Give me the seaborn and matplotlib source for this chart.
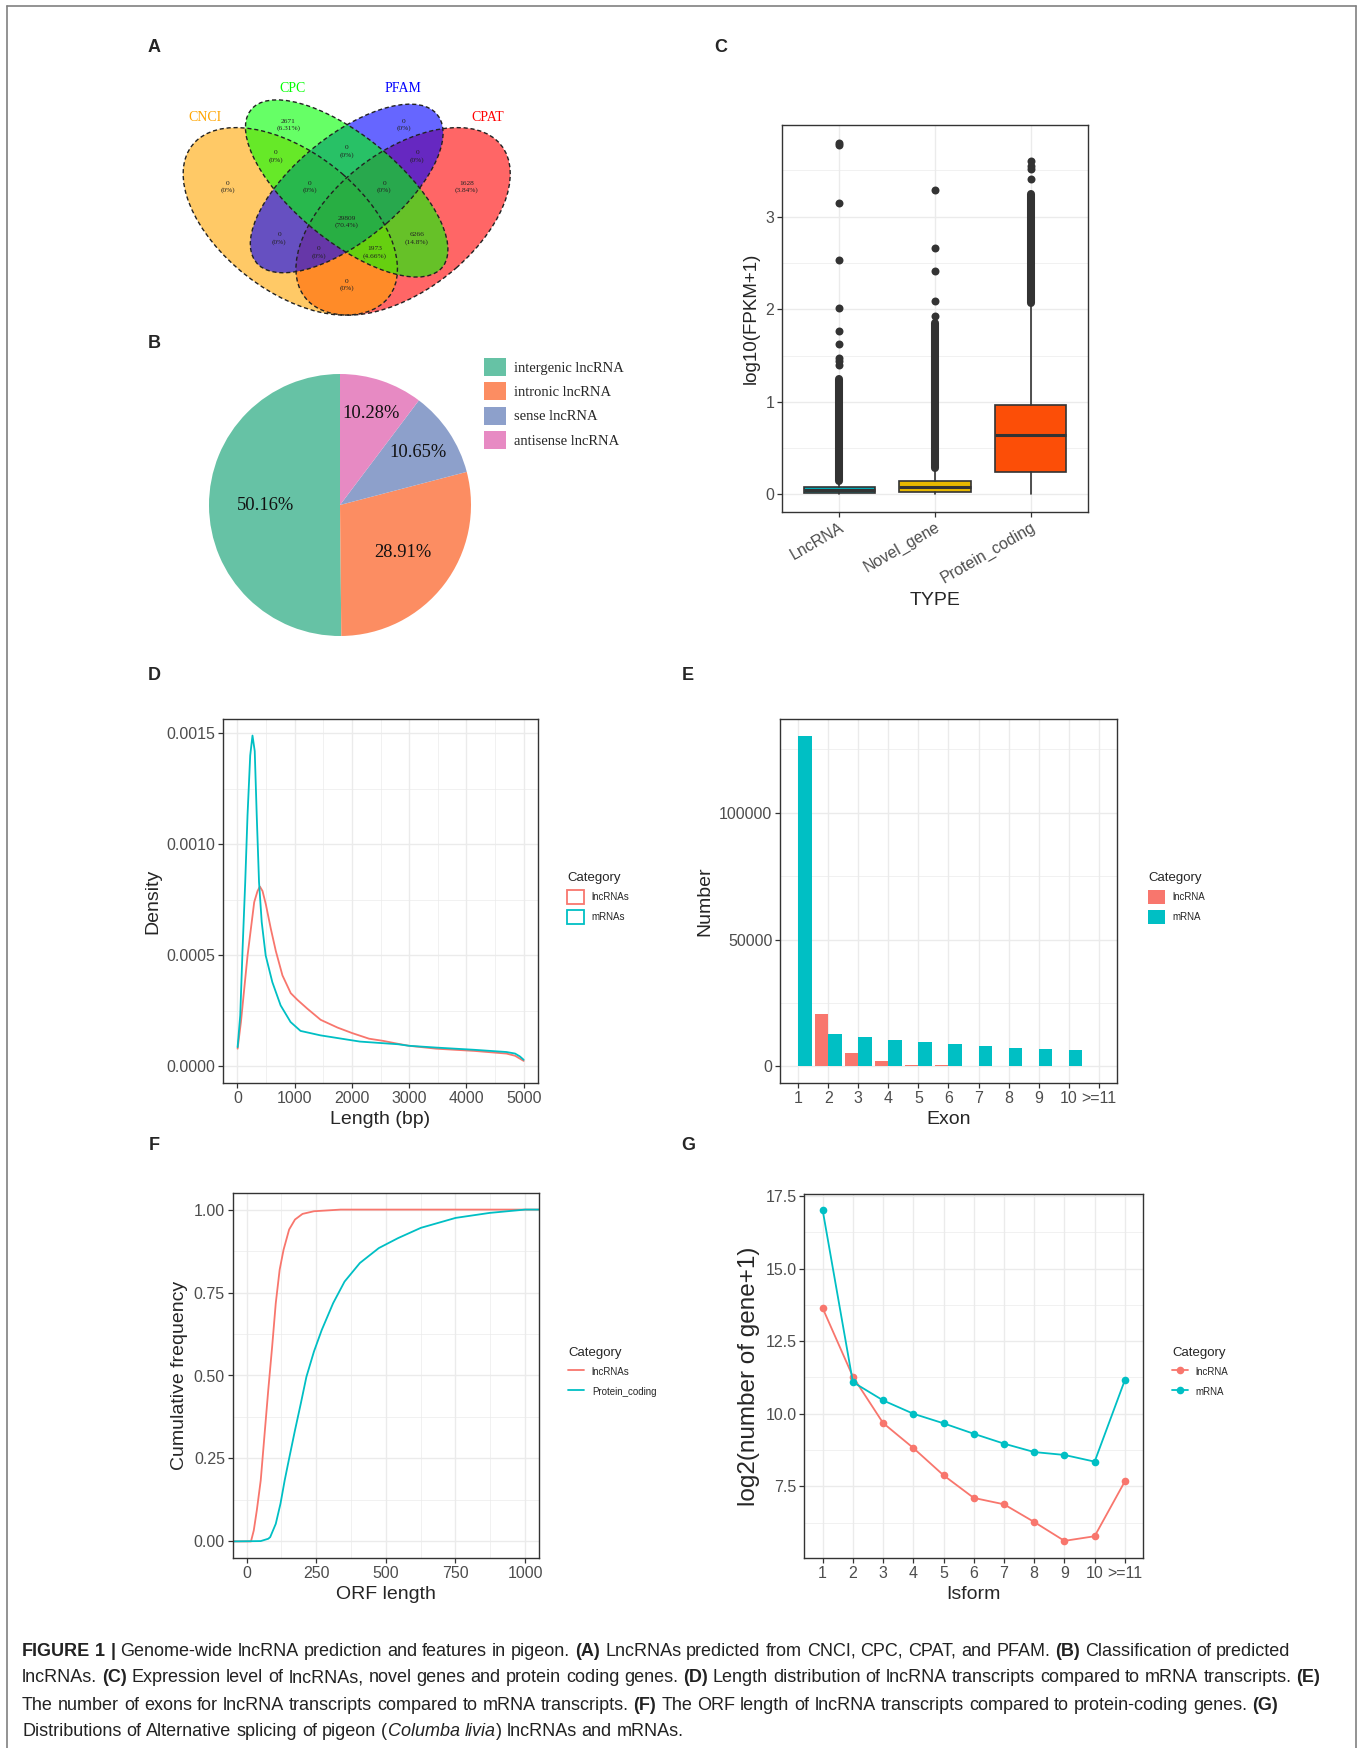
import re
import numpy as np
import pandas as pd
import matplotlib
matplotlib.use("Agg")
import matplotlib.pyplot as plt
import seaborn as sns
from matplotlib.patches import Ellipse, Patch
from matplotlib.lines import Line2D
from matplotlib.ticker import MultipleLocator

W, H = 1363, 1748

# ---------------- data ----------------
# A: Venn of the four predictors
venn_names = ["CNCI", "CPC", "PFAM", "CPAT"]
venn_colors = ["orange", "#00FF00", "#0000FF", "#FF0000"]
region_counts = [0, 2671, 0, 1628, 0, 0, 0, 0, 0, 29809, 0, 6266, 0, 1973, 0]
region_pcts = ["0%", "6.31%", "0%", "3.84%", "0%", "0%", "0%", "0%", "0%",
               "70.4%", "0%", "14.8%", "0%", "4.66%", "0%"]

# B: lncRNA classes
pie_labels = ["intergenic lncRNA", "intronic lncRNA", "sense lncRNA", "antisense lncRNA"]
pie_pcts = [50.16, 28.91, 10.65, 10.28]

# C: expression boxplots (summary stats)
expr_types = ["LncRNA", "Novel_gene", "Protein_coding"]
expr_colors = ["#00AFBB", "#E7B800", "#FC4E07"]
expr_q1 = [0.015, 0.03, 0.24]
expr_med = [0.045, 0.08, 0.645]
expr_q3 = [0.075, 0.145, 0.97]
expr_whislo = [0.0, 0.0, 0.0]
expr_whishi = [0.15, 0.28, 2.05]
expr_dense_lo = [0.15, 0.28, 2.07]   # dense run of outliers
expr_dense_hi = [1.25, 1.85, 3.25]
expr_outliers = [[1.40, 1.44, 1.47, 1.62, 1.76, 2.01, 2.53, 3.15, 3.77, 3.80],
                 [1.93, 2.09, 2.41, 2.66, 3.29],
                 [3.41, 3.52, 3.55, 3.60]]

# D: length density
len_x_lnc = [5, 63, 121, 179, 237, 295, 353, 394, 440, 498, 585, 672, 788, 933, 1049,
             1223, 1455, 1750, 2008, 2300, 2550, 2806, 3000, 3471, 4136, 4700, 4850, 5000]
dens_lnc = [0.80, 2.0, 3.5, 5.0, 6.2, 7.4, 7.9, 8.1, 7.9, 7.3, 6.2, 5.2, 4.1, 3.3, 3.0,
            2.6, 2.1, 1.75, 1.5, 1.25, 1.15, 1.02, 0.93, 0.80, 0.70, 0.58, 0.48, 0.25]
len_x_mrna = [5, 51, 92, 138, 178, 225, 265, 304, 339, 379, 426, 495, 611, 756, 930,
              1104, 1452, 2141, 2806, 3000, 3471, 4136, 4700, 4850, 4934, 5000]
dens_mrna = [0.87, 2.3, 5.3, 8.3, 11.3, 14.0, 14.9, 14.2, 11.3, 8.3, 6.5, 5.0, 3.8, 2.75, 2.0,
             1.6, 1.4, 1.12, 1.0, 0.93, 0.85, 0.75, 0.65, 0.58, 0.45, 0.30]  # x 1e-4

# E: exon number
exon_labels = ["1", "2", "3", "4", "5", "6", "7", "8", "9", "10", ">=11"]
exon_lnc = [0, 20700, 5200, 2000, 650, 400, 250, 0, 0, 0, 0]
exon_mrna = [130400, 12700, 11500, 10500, 9700, 8900, 8100, 7300, 6800, 6400, 0]

# F: ORF length ECDF
orf_x_lnc = [-50, 16, 26, 37, 51, 64, 78, 92, 105, 119, 133, 153, 174, 201, 242, 338, 1052]
orf_cdf_lnc = [0, 0, 0.033, 0.094, 0.184, 0.315, 0.456, 0.587, 0.718, 0.819, 0.879, 0.94,
               0.97, 0.987, 0.995, 1.0, 1.0]
orf_x_pc = [-50, 51, 78, 85, 105, 122, 137, 153, 174, 195, 215, 242, 270, 311, 352, 407,
            475, 544, 626, 751, 873, 1000, 1052]
orf_cdf_pc = [0, 0.001, 0.008, 0.013, 0.053, 0.114, 0.184, 0.25, 0.335, 0.416, 0.496, 0.572,
              0.637, 0.718, 0.783, 0.839, 0.884, 0.914, 0.945, 0.975, 0.99, 1.0, 1.0]

# G: isoforms
iso_labels = exon_labels
iso_lnc = [13.64, 11.28, 9.68, 8.82, 7.88, 7.10, 6.88, 6.27, 5.62, 5.78, 7.67]
iso_mrna = [17.02, 11.09, 10.46, 10.0, 9.67, 9.31, 8.97, 8.68, 8.58, 8.35, 11.16]

caption = [
    "**FIGURE 1 |** Genome-wide lncRNA prediction and features in pigeon. **(A)** LncRNAs predicted from CNCI, CPC, CPAT, and PFAM. **(B)** Classification of predicted",
    "lncRNAs. **(C)** Expression level of lncRNAs, novel genes and protein coding genes. **(D)** Length distribution of lncRNA transcripts compared to mRNA transcripts. **(E)**",
    "The number of exons for lncRNA transcripts compared to mRNA transcripts. **(F)** The ORF length of lncRNA transcripts compared to protein-coding genes. **(G)**",
    "Distributions of Alternative splicing of pigeon (*Columba livia*) lncRNAs and mRNAs.",
]

# ---------------- style ----------------
sns.set_theme(style="ticks")
plt.rcParams["font.family"] = ["Liberation Sans", "DejaVu Sans"]
SERIF = ["Liberation Serif", "DejaVu Serif"]
DARK, TICKLAB, GRID = "#333333", "#4D4D4D", "#EBEBEB"
RED, CYAN = "#F8766D", "#00BFC4"

fig = plt.figure(figsize=(W / 100, H / 100), dpi=100)


def px_axes(l, t, r, b):
    return fig.add_axes([l / W, 1 - b / H, (r - l) / W, (b - t) / H])


def gg_style(ax, xminor=None, yminor=None):
    for s in ax.spines.values():
        s.set_visible(True)
        s.set_color(DARK)
        s.set_linewidth(1.0)
    ax.tick_params(which="major", color=DARK, labelcolor=TICKLAB, labelsize=11.5,
                   length=3.5, width=0.9, pad=2)
    if xminor:
        ax.xaxis.set_minor_locator(MultipleLocator(xminor))
    if yminor:
        ax.yaxis.set_minor_locator(MultipleLocator(yminor))
    ax.tick_params(which="minor", length=0)
    ax.grid(True, which="major", color=GRID, lw=1.0)
    ax.grid(True, which="minor", color=GRID, lw=0.5)
    ax.set_axisbelow(True)


def cat_legend(handles, labels, x, y, hl=1.75):
    return fig.legend(handles, labels, title="Category", loc="upper left",
                      bbox_to_anchor=(x / W, 1 - y / H), frameon=False, fontsize=7,
                      title_fontsize=9.5, handlelength=hl, handleheight=1.9,
                      labelspacing=0.6, handletextpad=0.8, borderpad=0,
                      borderaxespad=0, alignment="left")


# ---------------- A: Venn ----------------
axA = px_axes(158.7, 47, 534.7, 376)
axA.set_xlim(0, 1)
axA.set_ylim(0, 1)
axA.axis("off")
ell_geom = {"CNCI": (0.35, 0.47, 0.35, 0.20, 135), "CPC": (0.50, 0.57, 0.35, 0.15, 135),
            "PFAM": (0.50, 0.57, 0.33, 0.15, 45), "CPAT": (0.65, 0.47, 0.35, 0.20, 45)}
col_of = dict(zip(venn_names, venn_colors))
for name in ["CPAT", "CNCI", "PFAM", "CPC"]:
    cx, cy, a, b, rot = ell_geom[name]
    axA.add_patch(Ellipse((cx, cy), 2 * a, 2 * b, angle=rot, facecolor=col_of[name],
                          alpha=0.6, lw=0))
for name in venn_names:
    cx, cy, a, b, rot = ell_geom[name]
    axA.add_patch(Ellipse((cx, cy), 2 * a, 2 * b, angle=rot, facecolor="none",
                          edgecolor="#222222", lw=1.0, ls=(0, (3, 2))))
name_pos = [(0.123, 0.787), (0.355, 0.875), (0.649, 0.875), (0.876, 0.787)]
for name, (x, y) in zip(venn_names, name_pos):
    axA.text(x, y, name, color=col_of[name], family=SERIF, fontsize=10,
             ha="center", va="center")
region_pos = [(0.183, 0.575), (0.345, 0.763), (0.651, 0.763), (0.819, 0.575),
              (0.312, 0.667), (0.5, 0.682), (0.688, 0.667), (0.401, 0.575),
              (0.6, 0.575), (0.5, 0.469), (0.321, 0.418), (0.686, 0.418),
              (0.425, 0.375), (0.575, 0.375), (0.5, 0.277)]
for (x, y), n, p in zip(region_pos, region_counts, region_pcts):
    axA.text(x, y, f"{n}\n({p})", family=SERIF, fontsize=5.3, ha="center",
             va="center", linespacing=1.35, color="#222222")

# ---------------- B: pie ----------------
axB = px_axes(209, 374, 471, 636)
pie_colors = sns.color_palette("Set2", 4)
wedges, _, autotexts = axB.pie(pie_pcts, colors=pie_colors, startangle=90,
                               autopct="%.2f%%", wedgeprops=dict(linewidth=0),
                               textprops=dict(family=SERIF, fontsize=13.3))
for w, t, r in zip(wedges, autotexts, [0.57, 0.6, 0.72, 0.74]):
    ang = np.deg2rad((w.theta1 + w.theta2) / 2)
    t.set_position((r * np.cos(ang), r * np.sin(ang)))
    t.set_color("#111111")
axB.set_xlim(-1, 1)
axB.set_ylim(-1, 1)
fig.legend(wedges, pie_labels, loc="upper left", bbox_to_anchor=(484 / W, 1 - 358 / H),
           frameon=False, prop=dict(family="Liberation Serif", size=10.5),
           handlelength=1.5, handleheight=1.5, labelspacing=0.45, handletextpad=0.55,
           borderpad=0, borderaxespad=0)

# ---------------- C: boxplot ----------------
axC = px_axes(782, 125, 1088, 512)
stats = [dict(med=expr_med[i], q1=expr_q1[i], q3=expr_q3[i], whislo=expr_whislo[i],
              whishi=expr_whishi[i], fliers=[]) for i in range(len(expr_types))]
bp = axC.bxp(stats, positions=range(len(expr_types)), widths=0.75, patch_artist=True,
             showcaps=False, showfliers=False,
             boxprops=dict(edgecolor=DARK, linewidth=1.2),
             whiskerprops=dict(color=DARK, linewidth=1.2),
             medianprops=dict(color=DARK, linewidth=2.2))
for patch, c in zip(bp["boxes"], expr_colors):
    patch.set_facecolor(c)
lc = axC.vlines(range(len(expr_types)), expr_dense_lo, expr_dense_hi, colors=DARK,
                linewidth=5.8, zorder=3)
lc.set_capstyle("round")
for i, vals in enumerate(expr_outliers):
    axC.scatter([i] * len(vals), vals, s=33, color=DARK, linewidths=0, zorder=3)
axC.set_xlim(-0.6, 2.6)
axC.set_ylim(-0.19, 3.99)
axC.set_yticks([0, 1, 2, 3])
axC.set_xticks(range(len(expr_types)))
axC.set_xticklabels(expr_types, rotation=30, ha="right", rotation_mode="anchor")
gg_style(axC, yminor=0.5)
axC.set_xlabel("TYPE", fontsize=14)
axC.set_ylabel("log10(FPKM+1)", fontsize=13.5)

# ---------------- D: density ----------------
axD = px_axes(223, 719, 538, 1083)
df_len = pd.concat([
    pd.DataFrame({"Length": len_x_lnc, "Density": np.array(dens_lnc) * 1e-4, "Category": "lncRNAs"}),
    pd.DataFrame({"Length": len_x_mrna, "Density": np.array(dens_mrna) * 1e-4, "Category": "mRNAs"}),
])
sns.lineplot(data=df_len, x="Length", y="Density", hue="Category",
             palette={"lncRNAs": RED, "mRNAs": CYAN}, estimator=None, legend=False,
             linewidth=1.3, ax=axD)
axD.set_xlim(-250, 5250)
axD.set_ylim(-0.0000745, 0.0015645)
axD.set_xticks(range(0, 5001, 1000))
axD.set_yticks([0, 0.0005, 0.001, 0.0015])
axD.set_yticklabels(["0.0000", "0.0005", "0.0010", "0.0015"])
gg_style(axD, xminor=500, yminor=0.00025)
axD.set_xlabel("Length (bp)", fontsize=14)
axD.set_ylabel("Density", fontsize=14)
cat_legend([Patch(facecolor="white", edgecolor=RED, lw=1.3),
            Patch(facecolor="white", edgecolor=CYAN, lw=1.3)],
           ["lncRNAs", "mRNAs"], 567, 872)

# ---------------- E: exon bars ----------------
axE = px_axes(780, 719, 1117, 1083)
df_exon = pd.concat([
    pd.DataFrame({"Exon": exon_labels, "Number": exon_lnc, "Category": "lncRNA"}),
    pd.DataFrame({"Exon": exon_labels, "Number": exon_mrna, "Category": "mRNA"}),
])
sns.barplot(data=df_exon, x="Exon", y="Number", hue="Category", order=exon_labels,
            hue_order=["lncRNA", "mRNA"], palette={"lncRNA": RED, "mRNA": CYAN},
            saturation=1, width=0.9, errorbar=None, legend=False, linewidth=0, ax=axE)
axE.set_xlim(-0.6, 10.6)
axE.set_ylim(-6520, 136920)
axE.set_yticks([0, 50000, 100000])
axE.set_yticklabels(["0", "50000", "100000"])
gg_style(axE, yminor=25000)
axE.set_xlabel("Exon", fontsize=14)
axE.set_ylabel("Number", fontsize=14)
cat_legend([Patch(facecolor=RED, lw=0), Patch(facecolor=CYAN, lw=0)],
           ["lncRNA", "mRNA"], 1148, 872)

# ---------------- F: ORF ECDF ----------------
axF = px_axes(232.6, 1193, 539.5, 1558)
df_orf = pd.concat([
    pd.DataFrame({"ORF": orf_x_lnc, "cdf": orf_cdf_lnc, "Category": "lncRNAs"}),
    pd.DataFrame({"ORF": orf_x_pc, "cdf": orf_cdf_pc, "Category": "Protein_coding"}),
])
sns.lineplot(data=df_orf, x="ORF", y="cdf", hue="Category",
             palette={"lncRNAs": RED, "Protein_coding": CYAN}, estimator=None,
             legend=False, linewidth=1.3, ax=axF)
axF.set_xlim(-50, 1052)
axF.set_ylim(-0.05, 1.05)
axF.set_xticks([0, 250, 500, 750, 1000])
axF.set_yticks([0, 0.25, 0.5, 0.75, 1.0])
axF.set_yticklabels(["0.00", "0.25", "0.50", "0.75", "1.00"])
gg_style(axF, xminor=125, yminor=0.125)
axF.set_xlabel("ORF length", fontsize=14)
axF.set_ylabel("Cumulative frequency", fontsize=14)
cat_legend([Line2D([], [], color=RED, lw=1.3), Line2D([], [], color=CYAN, lw=1.3)],
           ["lncRNAs", "Protein_coding"], 568, 1347, hl=1.65)

# ---------------- G: isoforms ----------------
axG = px_axes(804.5, 1194, 1143, 1558)
df_iso = pd.concat([
    pd.DataFrame({"Isform": iso_labels, "value": iso_lnc, "Category": "lncRNA"}),
    pd.DataFrame({"Isform": iso_labels, "value": iso_mrna, "Category": "mRNA"}),
])
sns.pointplot(data=df_iso, x="Isform", y="value", hue="Category", order=iso_labels,
              hue_order=["lncRNA", "mRNA"], palette={"lncRNA": RED, "mRNA": CYAN},
              errorbar=None, legend=False, markersize=5.5, linewidth=1.3,
              markeredgewidth=0, ax=axG)
axG.set_xlim(-0.6, 10.6)
axG.set_ylim(5.03, 17.57)
axG.set_yticks([7.5, 10, 12.5, 15, 17.5])
axG.set_yticklabels(["7.5", "10.0", "12.5", "15.0", "17.5"])
gg_style(axG, yminor=1.25)
axG.set_xlabel("Isform", fontsize=14)
axG.set_ylabel("log2(number of gene+1)", fontsize=17.5)
cat_legend([Line2D([], [], color=RED, lw=1.3, marker="o", ms=5.5, mew=0),
            Line2D([], [], color=CYAN, lw=1.3, marker="o", ms=5.5, mew=0)],
           ["lncRNA", "mRNA"], 1172, 1347, hl=1.65)

# ---------------- panel letters ----------------
for lab, x, y in [("A", 154, 48), ("C", 721, 48), ("B", 154, 343), ("D", 154, 676),
                  ("E", 688, 676), ("F", 154, 1145), ("G", 688, 1145)]:
    fig.text(x / W, 1 - y / H, lab, fontsize=13, fontweight="bold", ha="center", va="center")

# ---------------- outer frame ----------------
for xs, ys in [([7, 7], [6, H]), ([7, 1356], [6, 6]), ([1356, 1356], [6, H])]:
    fig.add_artist(Line2D([x / W for x in xs], [1 - y / H for y in ys], color="#808080", lw=1.2))

# ---------------- caption ----------------
renderer = fig.canvas.get_renderer()


def tokens_of(line):
    toks, space = [], False
    for m in re.finditer(r"\*\*(.+?)\*\*|\*(.+?)\*|([^*]+)", line):
        if m.group(1) is not None:
            txt, wt, st = m.group(1), "bold", "normal"
        elif m.group(2) is not None:
            txt, wt, st = m.group(2), "normal", "italic"
        else:
            txt, wt, st = m.group(3), "normal", "normal"
        for i, p in enumerate(txt.split(" ")):
            if i > 0:
                space = True
            if p == "":
                continue
            toks.append((p, wt, st, space))
            space = False
    return toks


def draw_line(line, x, y, size, draw=True):
    sp = fig.text(0, 0, "n n", fontsize=size)
    nn = fig.text(0, 0, "nn", fontsize=size)
    space_w = sp.get_window_extent(renderer).width - nn.get_window_extent(renderer).width
    sp.remove()
    nn.remove()
    for word, wt, st, space in tokens_of(line):
        if space:
            x += space_w
        t = fig.text(x / W, 1 - y / H, word, fontsize=size, fontweight=wt, fontstyle=st,
                     ha="left", va="center", color="#222222")
        x += t.get_window_extent(renderer).width
        if not draw:
            t.remove()
    return x


end = draw_line(caption[0], 22, 1651, 12, draw=False)
cap_size = 12 * (1271 / (end - 22))
for i, line in enumerate(caption):
    draw_line(line, 22, 1651 + 27 * i, cap_size)

fig.savefig("out.png", dpi=100)
